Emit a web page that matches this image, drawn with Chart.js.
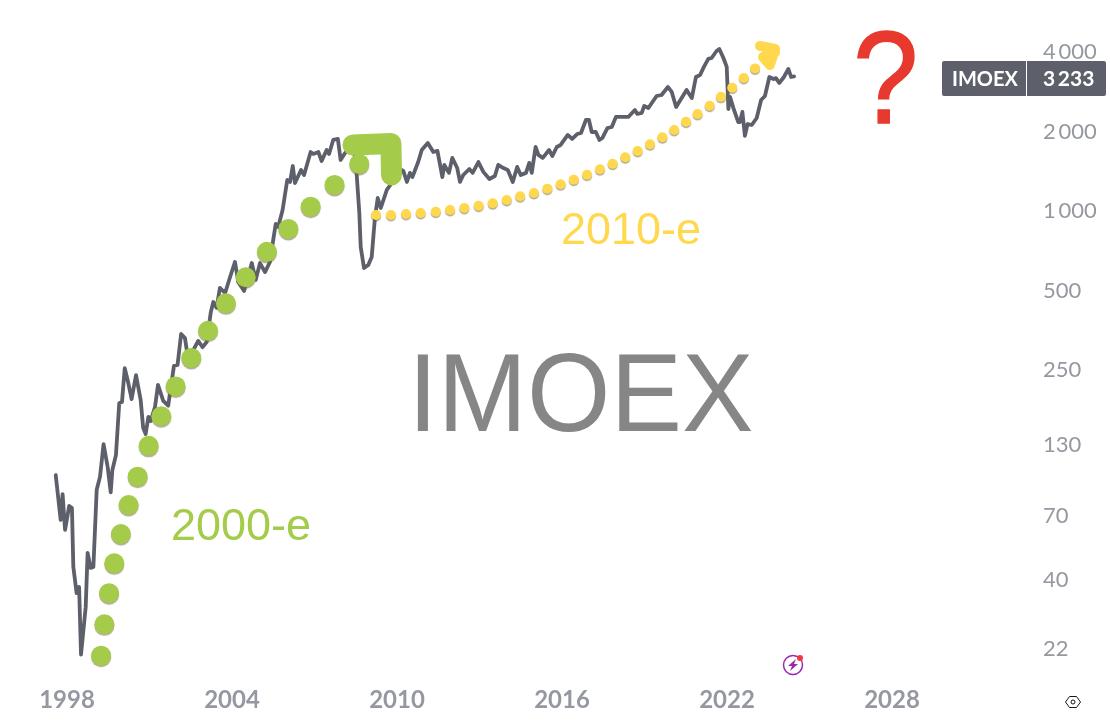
<!DOCTYPE html>
<html>
<head>
<meta charset="utf-8">
<title>IMOEX</title>
<script src="https://cdn.jsdelivr.net/npm/chart.js@4"></script>
<style>
    body { margin: 0; background: #fff; }
    canvas { display: block; }
</style>
</head>
<body>
<canvas class="chart-1" width="1110" height="723"></canvas>
<script>
const indexName = 'IMOEX';
const lastValue = 3233;

const xTicks = [1998, 2004, 2010, 2016, 2022, 2028];
const yTicks = [22, 40, 70, 130, 250, 500, 1000, 2000, 4000];

const imoexYears = [
    1997.59, 1997.77, 1997.84, 1997.93, 1998.08, 1998.18, 1998.23, 1998.35, 1998.44, 1998.51,
    1998.68, 1998.75, 1998.86, 1998.96, 1999.08, 1999.20, 1999.33, 1999.48, 1999.59, 1999.65,
    1999.78, 1999.90, 2000.00, 2000.10, 2000.23, 2000.35, 2000.51, 2000.68, 2000.77, 2000.86,
    2000.96, 2001.04, 2001.20, 2001.31, 2001.50, 2001.68, 2001.89, 2002.02, 2002.15, 2002.29,
    2002.41, 2002.65, 2002.77, 2002.93, 2003.08, 2003.23, 2003.32, 2003.44, 2003.56, 2003.75,
    2003.93, 2004.11, 2004.23, 2004.44, 2004.72, 2004.86, 2005.02, 2005.20, 2005.38, 2005.50,
    2005.59, 2005.68, 2005.84, 2006.01, 2006.11, 2006.21, 2006.29, 2006.51, 2006.62, 2006.86,
    2006.96, 2007.14, 2007.26, 2007.44, 2007.53, 2007.68, 2007.85, 2007.95, 2008.11, 2008.29,
    2008.44, 2008.53, 2008.63, 2008.68, 2008.80, 2008.96, 2009.08, 2009.20, 2009.30, 2009.41,
    2009.63, 2009.81, 2009.96, 2010.11, 2010.23, 2010.36, 2010.47, 2010.56, 2010.77, 2010.90,
    2011.12, 2011.32, 2011.47, 2011.65, 2011.72, 2011.89, 2012.01, 2012.19, 2012.29, 2012.41,
    2012.63, 2012.75, 2012.96, 2013.14, 2013.36, 2013.56, 2013.68, 2013.87, 2014.03, 2014.21,
    2014.37, 2014.50, 2014.69, 2014.81, 2014.90, 2015.04, 2015.14, 2015.30, 2015.53, 2015.65,
    2015.81, 2015.95, 2016.21, 2016.37, 2016.56, 2016.69, 2016.87, 2016.98, 2017.08, 2017.23,
    2017.36, 2017.47, 2017.65, 2017.81, 2017.96, 2018.17, 2018.41, 2018.65, 2018.74, 2018.90,
    2018.99, 2019.14, 2019.44, 2019.62, 2019.85, 2019.99, 2020.15, 2020.35, 2020.53, 2020.72,
    2020.87, 2021.02, 2021.16, 2021.32, 2021.44, 2021.62, 2021.72, 2021.87, 2021.99, 2022.05,
    2022.11, 2022.23, 2022.41, 2022.47, 2022.56, 2022.65, 2022.75, 2022.90, 2023.08, 2023.24,
    2023.38, 2023.54, 2023.69, 2023.78, 2023.90, 2024.07, 2024.23, 2024.33, 2024.44
];
const imoexValues = [
    100, 67.6, 84.7, 62, 76.4, 75, 44.9, 35.7, 37.7, 20.9,
    31.6, 50.7, 44.5, 44.9, 87.9, 98.4, 131, 107, 86, 104.5,
    119, 187.4, 189, 254, 223, 194, 239, 192, 151, 143,
    166, 160, 181, 219.5, 191, 183, 259, 261, 342, 330,
    273, 305, 322, 305, 319, 414, 452, 430, 511, 489,
    562, 641, 538, 498, 635, 548, 635, 587, 641, 777,
    893, 870, 1009, 1310, 1288, 1480, 1276, 1430, 1368, 1672,
    1644, 1672, 1546, 1702, 1644, 1858, 1874, 1560, 1658, 1732,
    1702, 1393, 983, 731, 608, 625, 669, 949, 1120, 1026,
    1201, 1276, 1407, 1441, 1418, 1288, 1394, 1344, 1532, 1702,
    1810, 1672, 1688, 1344, 1494, 1394, 1588, 1454, 1288, 1368,
    1442, 1394, 1532, 1406, 1322, 1356, 1494, 1454, 1430, 1288,
    1468, 1368, 1394, 1521, 1394, 1747, 1630, 1588, 1702, 1615,
    1747, 1778, 1940, 1874, 1957, 1974, 2210, 2210, 1991, 1991,
    1858, 1890, 2061, 2080, 2270, 2270, 2270, 2412, 2330, 2350,
    2498, 2454, 2725, 2749, 2947, 2823, 2476, 2677, 2873, 2677,
    3216, 3272, 3512, 3765, 3796, 4035, 4106, 3796, 3512, 2433,
    2705, 2457, 2172, 2172, 2372, 1924, 2134, 2116, 2249, 2631,
    2725, 3216, 3159, 3186, 3053, 3216, 3449, 3216, 3233
];

const dots2000Years = [1999.24, 1999.36, 1999.53, 1999.72, 1999.96, 2000.24, 2000.57, 2000.97, 2001.43, 2001.95,
    2002.52, 2003.13, 2003.78, 2004.50, 2005.27, 2006.05, 2006.86, 2007.73, 2008.63];
const dots2000Values = [20.7, 27.2, 35.7, 46.3, 59.8, 77, 98.6, 129, 167, 216.5,
    277.6, 352, 447, 561, 700, 855, 1038, 1255, 1507];
const arrow2000Years = [2008.40, 2009.78, 2009.80];
const arrow2000Values = [1778, 1800, 1368];

const dots2010Years = [2009.24, 2009.78, 2010.33, 2010.86, 2011.41, 2011.93, 2012.45, 2012.97, 2013.48, 2013.99,
    2014.48, 2014.98, 2015.47, 2015.95, 2016.43, 2016.91, 2017.38, 2017.84, 2018.30, 2018.75,
    2019.20, 2019.65, 2020.08, 2020.51, 2020.93, 2021.37, 2021.78, 2022.19, 2022.61, 2023.02];
const dots2010Values = [966, 966, 974, 983, 994, 1009, 1026, 1047, 1069, 1100,
    1137, 1170, 1215, 1262, 1314, 1372, 1439, 1510, 1597, 1688,
    1788, 1902, 2026, 2178, 2330, 2504, 2705, 2930, 3186, 3467];
const arrow2010Years = [2023.20, 2023.75, 2023.56, 2023.31, 2023.75];
const arrow2010Values = [4216, 4106, 3572, 3828, 4000];

const lineColor = '#5d606b';
const greenColor = '#a4cb4a';
const yellowColor = '#ffd84d';
const tickColor = '#9598a1';

function toPoints(years, values) {
    const points = [];
    for (let i = 0; i < years.length; i++) {
        points.push({ x: years[i], y: values[i] });
    }
    return points;
}

function formatValue(value) {
    return String(value).replace(/\B(?=(\d{3})+$)/g, '\u2009');
}

// small shadow under the hand drawn dots
const dotShadow = {
    id: 'dotShadow',
    beforeDatasetDraw(chart, args) {
        if (!args.meta._dataset.hasShadow) return;
        const ctx = chart.ctx;
        ctx.save();
        ctx.shadowColor = 'rgba(110,100,60,0.55)';
        ctx.shadowBlur = 1;
        ctx.shadowOffsetY = 1.5;
    },
    afterDatasetDraw(chart, args) {
        if (args.meta._dataset.hasShadow) chart.ctx.restore();
    }
};

function drawText(ctx, text, x, y, font, color) {
    ctx.font = font;
    ctx.fillStyle = color;
    ctx.fillText(text, x, y);
}

const overlay = {
    id: 'overlay',
    afterDraw(chart) {
        const ctx = chart.ctx;
        ctx.save();
        ctx.textBaseline = 'alphabetic';
        ctx.textAlign = 'left';

        ctx.save();
        ctx.translate(408, 431);
        ctx.scale(0.957, 1);
        drawText(ctx, indexName, 0, 0, '112px "Liberation Sans"', '#868686');
        ctx.restore();

        drawText(ctx, '2000-e', 171, 540, '45px "Liberation Sans"', greenColor);
        drawText(ctx, '2010-e', 561, 244, '45px "Liberation Sans"', yellowColor);

        ctx.save();
        ctx.translate(853, 123);
        ctx.scale(0.89, 1);
        drawText(ctx, '?', 0, 0, '132px "Liberation Sans"', '#e8392e');
        ctx.strokeStyle = '#e8392e';
        ctx.lineWidth = 1.5;
        ctx.strokeText('?', 0, 0);
        ctx.restore();

        // last value label
        const labelY = Math.round(chart.scales.y.getPixelForValue(lastValue)) + 2;
        ctx.fillStyle = lineColor;
        ctx.beginPath();
        ctx.roundRect(942, labelY - 17, 84, 35, [2, 0, 0, 2]);
        ctx.roundRect(1027, labelY - 17, 79, 35, [0, 2, 2, 0]);
        ctx.fill();
        drawText(ctx, indexName, 952, labelY + 8, 'bold 20px Lato', '#ffffff');
        drawText(ctx, formatValue(lastValue), 1043, labelY + 8, 'bold 21px Lato', '#ffffff');

        // purple badge
        ctx.strokeStyle = '#9c27b0';
        ctx.lineWidth = 1.5;
        ctx.beginPath();
        ctx.arc(793, 665, 9.5, 0, Math.PI * 2);
        ctx.stroke();
        ctx.fillStyle = '#9c27b0';
        ctx.beginPath();
        ctx.moveTo(796, 659);
        ctx.lineTo(788, 666);
        ctx.lineTo(792, 666);
        ctx.lineTo(790, 671);
        ctx.lineTo(798, 664);
        ctx.lineTo(794, 664);
        ctx.closePath();
        ctx.fill();
        ctx.fillStyle = '#f23645';
        ctx.beginPath();
        ctx.arc(800, 658, 3, 0, Math.PI * 2);
        ctx.fill();

        // hexagon icon bottom right
        ctx.strokeStyle = '#131722';
        ctx.lineWidth = 1;
        ctx.beginPath();
        ctx.moveTo(1065.5, 702);
        ctx.lineTo(1069.5, 696.5);
        ctx.lineTo(1076.5, 696.5);
        ctx.lineTo(1080.5, 702);
        ctx.lineTo(1076.5, 707.5);
        ctx.lineTo(1069.5, 707.5);
        ctx.closePath();
        ctx.stroke();
        ctx.beginPath();
        ctx.arc(1073, 702, 2, 0, Math.PI * 2);
        ctx.stroke();
        ctx.restore();
    }
};

createChart(document.querySelector('.chart-1'));

function createChart(canvas) {
    new Chart(canvas, {
        type: 'scatter',
        data: {
            datasets: [{
                label: indexName,
                data: toPoints(imoexYears, imoexValues),
                showLine: true,
                borderColor: lineColor,
                borderWidth: 3.8,
                borderJoinStyle: 'round',
                borderCapStyle: 'round',
                pointRadius: 0,
                tension: 0,
                order: 5
            }, {
                label: '2010-e',
                data: toPoints(dots2010Years, dots2010Values),
                hasShadow: true,
                showLine: false,
                backgroundColor: yellowColor,
                pointRadius: 5,
                pointBorderWidth: 0,
                order: 3
            }, {
                label: '2010-e arrow',
                data: toPoints(arrow2010Years, arrow2010Values),
                showLine: true,
                borderColor: yellowColor,
                borderWidth: 10,
                borderJoinStyle: 'round',
                borderCapStyle: 'round',
                pointRadius: 0,
                tension: 0,
                order: 3
            }, {
                label: '2000-e',
                data: toPoints(dots2000Years, dots2000Values),
                hasShadow: true,
                showLine: false,
                backgroundColor: greenColor,
                pointRadius: 10,
                pointBorderWidth: 0,
                order: 2
            }, {
                label: '2000-e arrow',
                data: toPoints(arrow2000Years, arrow2000Values),
                showLine: true,
                borderColor: greenColor,
                borderWidth: 21,
                borderJoinStyle: 'round',
                borderCapStyle: 'round',
                pointRadius: 0,
                tension: 0,
                order: 1
            }]
        },
        options: {
            responsive: false,
            animation: false,
            layout: { padding: 0, autoPadding: false },
            plugins: {
                legend: { display: false },
                tooltip: { enabled: false }
            },
            scales: {
                x: {
                    type: 'linear',
                    min: 1995.564,
                    max: 2033.127,
                    grid: { display: false, drawTicks: false },
                    border: { display: false },
                    afterBuildTicks: (axis) => { axis.ticks = xTicks.map((value) => ({ value: value })); },
                    afterFit: (axis) => {
                        axis.height = 43;
                        axis.paddingLeft = 0;
                        axis.paddingRight = 0;
                    },
                    ticks: {
                        color: tickColor,
                        font: { family: 'Lato', size: 24, weight: 'bold' },
                        padding: 6,
                        autoSkip: false,
                        maxRotation: 0,
                        callback: (value) => String(value)
                    }
                },
                y: {
                    type: 'logarithmic',
                    position: 'right',
                    min: 16.74,
                    max: 6294,
                    grid: { display: false, drawTicks: false },
                    border: { display: false },
                    afterBuildTicks: (axis) => { axis.ticks = yTicks.map((value) => ({ value: value })); },
                    afterFit: (axis) => {
                        axis.width = 77;
                        axis.paddingTop = 0;
                        axis.paddingBottom = 0;
                    },
                    ticks: {
                        color: tickColor,
                        font: { family: 'Lato', size: 22 },
                        padding: 10,
                        autoSkip: false,
                        callback: (value) => formatValue(value)
                    }
                }
            }
        },
        plugins: [dotShadow, overlay]
    });
}
</script>
</body>
</html>
